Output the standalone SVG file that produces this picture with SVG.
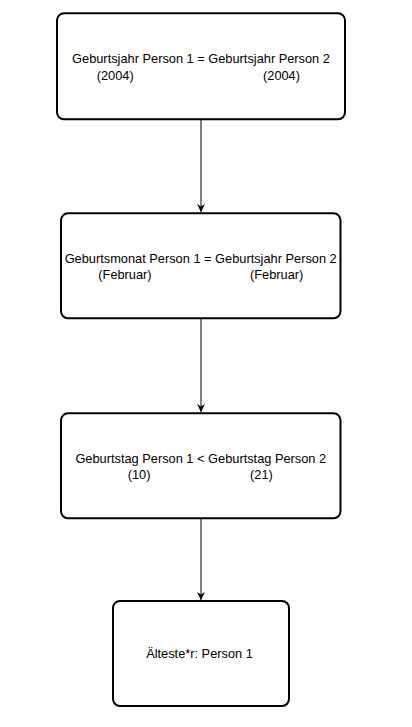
<svg xmlns="http://www.w3.org/2000/svg" width="412" height="727" viewBox="0 0 412 727">
<style>
.box{fill:#fff;stroke:#000;stroke-width:2}
.t{font-family:"Liberation Sans",Arial,sans-serif;font-size:12.8px;fill:#000}
.c{text-anchor:middle}
.edge{stroke:#000;stroke-width:1;fill:none}
</style>
<defs>
<marker id="arr" viewBox="0 0 10 10" refX="10" refY="5" markerWidth="8" markerHeight="8" markerUnits="userSpaceOnUse" orient="auto">
<path d="M0,0 L10,5 L0,10 L3,5 Z" fill="#000"/>
</marker>
</defs>
<rect width="412" height="727" fill="#fff"/>
<g id="connectors">
<line class="edge" x1="201" y1="120" x2="201" y2="212" marker-end="url(#arr)"/>
<line class="edge" x1="201" y1="319" x2="201" y2="412" marker-end="url(#arr)"/>
<line class="edge" x1="201" y1="519" x2="201" y2="600" marker-end="url(#arr)"/>
</g>
<g id="node1">
<rect class="box" x="57" y="13.3" width="288" height="106" rx="7"/>
<text class="t c" x="201" y="63.3">Geburtsjahr Person 1 = Geburtsjahr Person 2</text>
<text class="t" x="96.7" y="79.5">(2004)</text>
<text class="t" x="263" y="79.5">(2004)</text>
</g>
<g id="node2">
<rect class="box" x="61" y="213.3" width="279.5" height="105" rx="7"/>
<text class="t c" x="200.7" y="262.5">Geburtsmonat Person 1 = Geburtsjahr Person 2</text>
<text class="t" x="98.3" y="279">(Februar)</text>
<text class="t" x="250" y="279">(Februar)</text>
</g>
<g id="node3">
<rect class="box" x="61" y="413.3" width="279.5" height="105" rx="7"/>
<text class="t c" x="200.8" y="462.5">Geburtstag Person 1 &lt; Geburtstag Person 2</text>
<text class="t" x="127.7" y="479">(10)</text>
<text class="t" x="250" y="479">(21)</text>
</g>
<g id="node4">
<rect class="box" x="113" y="601" width="176" height="105" rx="7"/>
<text class="t c" x="199.5" y="658">Älteste*r: Person 1</text>
</g>
</svg>
